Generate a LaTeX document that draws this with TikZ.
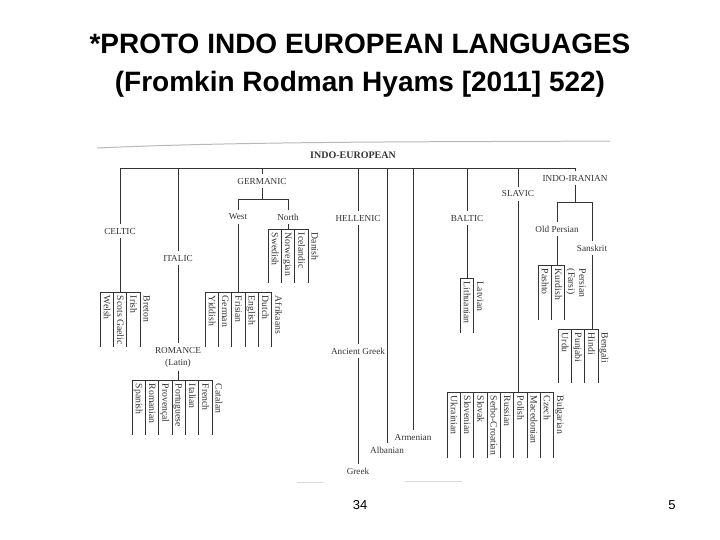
\documentclass[tikz,border=0pt]{standalone}
\usepackage{fontspec}
\setmainfont{Liberation Serif}
\newfontfamily\slidefont{Liberation Sans}
\definecolor{ink}{gray}{0.2}
\newcommand{\colw}{13.3}
% one row of daughter languages hanging from a bar
\newcommand{\leafrow}[5]{%
  \coordinate (#1) at (#2, #3);
  \foreach \lang [count=\i] in {#5} {
    \draw ({#2+(\i-1)*\colw}, #3) -- ({#2+(\i-1)*\colw}, #4);
    \ifnum\i>1 \draw ({#2+(\i-2)*\colw}, #3) -- ({#2+(\i-1)*\colw}, #3); \fi
    \node[leaf] (#1-\i) at ({#2+(\i-1)*\colw}, #3+2) {\lang};
  }
}

\begin{document}
\begin{tikzpicture}[x=1pt, y=-1pt, ink, line width=0.6pt,
    lab/.style={font=\fontsize{9.2}{12}\selectfont},
    leaf/.style={font=\fontsize{9.7}{11}\selectfont, rotate=-90, anchor=south west, inner sep=1.5pt, text depth=2pt}]
        \useasboundingbox (0,0) rectangle (720,540);

        \node[font=\slidefont\bfseries\fontsize{28}{38}\selectfont, align=center, text=black] (title) at (360,66)
            {*PROTO INDO EUROPEAN LANGUAGES\\(Fromkin Rodman Hyams [2011] 522)};

        % edge of the scanned page
        \draw[gray!55, line width=1pt] (97,148) .. controls (250,141) and (450,142) .. (610,141);
        \draw[gray!30, line width=1pt] (297,482) -- (323,482);
        \draw[gray!30, line width=1pt] (405,481) -- (462,481);

        \node[font=\bfseries\fontsize{10}{12}\selectfont] (ie-lab) at (353,155) {INDO-EUROPEAN};
        \coordinate (ie) at (353,168);

        \node[lab] (celtic) at (120,231) {CELTIC};
        \node[lab] (italic) at (178,258) {ITALIC};
        \node[lab, align=center] (romance) at (178,357) {ROMANCE\\(Latin)};
        \node[lab] (germanic) at (262,181) {GERMANIC};
        \coordinate (germ-j) at (262,199);
        \node[lab] (west) at (238,217) {West};
        \node[lab] (north) at (288,217) {North};
        \node[lab] (hellenic) at (358,218) {HELLENIC};
        \node[lab] (ancient) at (358,351) {Ancient Greek};
        \node[lab] (greek) at (358,471) {Greek};
        \node[lab] (albanian) at (387,450) {Albanian};
        \node[lab] (armenian) at (413,437) {Armenian};
        \node[lab] (baltic) at (467,218) {BALTIC};
        \node[lab] (slavic) at (518,194) {SLAVIC};
        \node[lab] (iir) at (575,178) {INDO-IRANIAN};
        \coordinate (iir-j) at (575,202);
        \node[lab] (oldpers) at (557,229) {Old Persian};
        \node[lab] (sanskrit) at (592,248) {Sanskrit};

        \leafrow{celts}{100}{292}{347}{Welsh, Scots Gaelic, Irish, Breton}
        \leafrow{wgerm}{205}{292}{347}{Yiddish, German, Frisian, English, Dutch, Afrikaans}
        \leafrow{ngerm}{268}{229}{283}{Swedish, Norwegian, Icelandic, Danish}
        \leafrow{rom}{132}{380}{435}{Spanish, Romanian, Provençal, Portuguese, Italian, French, Catalan}
        \leafrow{balt}{460}{278}{333}{Lithuanian, Latvian}
        \leafrow{slav}{447}{392}{458}{Ukrainian, Slovenian, Slovak, Serbo-Croatian, Russian, Polish, Macedonian, Czech, Bulgarian}
        \leafrow{iran}{538}{265}{320}{Pashto, Kurdish, {\begin{tabular}[b]{@{}l@{}}Persian\\(Farsi)\end{tabular}}}
        \leafrow{indic}{558}{329}{383}{Urdu, Punjabi, Hindi, Bengali}

        \draw (celtic |- ie) -- (iir |- ie);
        \draw (celtic |- ie) -- (celtic) -- (celtic |- celts);
        \draw (italic |- ie) -- (italic) -- (romance) -- (romance |- rom);
        \draw (germanic |- ie) -- (germanic) -- (germ-j);
        \draw (west |- germ-j) -- (north |- germ-j);
        \draw (west |- germ-j) -- (west) -- (west |- wgerm);
        \draw (north |- germ-j) -- (north) -- (north |- ngerm);
        \draw (hellenic |- ie) -- (hellenic) -- (ancient) -- (greek);
        \draw (albanian |- ie) -- (albanian);
        \draw (armenian |- ie) -- (armenian);
        \draw (baltic |- ie) -- (baltic) -- (baltic |- balt);
        \draw (slavic |- ie) -- (slavic) -- (slavic |- slav);
        \draw (iir |- ie) -- (iir) -- (iir-j);
        \draw (oldpers |- iir-j) -- (sanskrit |- iir-j);
        \draw (oldpers |- iir-j) -- (oldpers) -- (oldpers |- iran);
        \draw (sanskrit |- iir-j) -- (sanskrit) -- (sanskrit |- indic);

        \node[font=\slidefont\fontsize{13}{15}\selectfont, text=black] (slide-no) at (360,505) {34};
        \node[font=\slidefont\fontsize{13}{15}\selectfont, text=black] (page-no) at (672,505) {5};
\end{tikzpicture}
\end{document}
